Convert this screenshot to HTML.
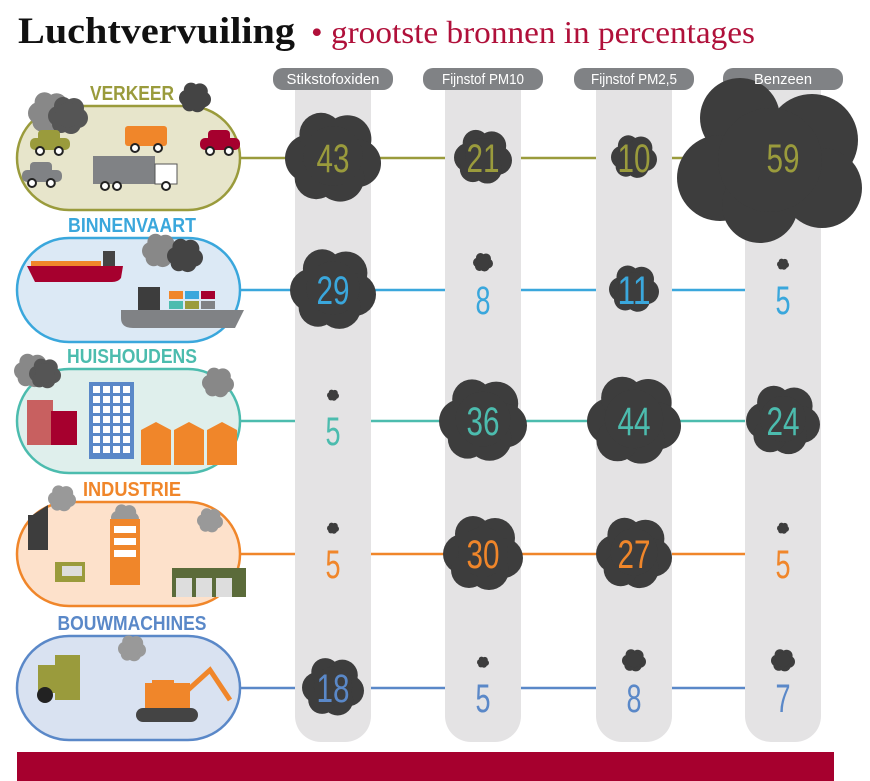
<!DOCTYPE html>
<html><head><meta charset="utf-8"><style>
html,body{margin:0;padding:0;background:#fff;}
svg{display:block}
.t{font-family:"Liberation Sans Narrow","Liberation Sans",sans-serif}
</style></head><body>
<svg id="s" width="870" height="781" viewBox="0 0 870 781" xmlns="http://www.w3.org/2000/svg">
<text x="18" y="43" font-family="Liberation Serif,serif" font-weight="bold" font-size="37" fill="#111" textLength="277" lengthAdjust="spacingAndGlyphs">Luchtvervuiling</text>
<text x="311" y="43" font-family="Liberation Serif,serif" font-size="32" fill="#b0103a" textLength="444" lengthAdjust="spacingAndGlyphs">• grootste bronnen in percentages</text>
<g id="cols"></g>
<g id="rows"></g>
<g id="heads"></g>
<rect x="17" y="752" width="817" height="29" fill="#a6002e"/>
</svg>
<script>
var s=document.getElementById('s'),NS='http://www.w3.org/2000/svg';
function el(t,a,p,txt){var e=document.createElementNS(NS,t);for(var k in a)e.setAttribute(k,a[k]);if(txt!=null)e.textContent=txt;(p||s).appendChild(e);return e;}
var cx=[333,483,634,783],heads=['Stikstofoxiden','Fijnstof PM10','Fijnstof PM2,5','Benzeen'],hw=[93,82,86,58];
var cols=document.getElementById('cols'),hd=document.getElementById('heads');
cx.forEach(function(x,i){
 el('rect',{x:x-38,y:80,width:76,height:662,rx:26,fill:'#e4e3e4'},cols);
 el('rect',{x:x-38,y:80,width:76,height:40,fill:'#e4e3e4'},cols);
 el('rect',{x:x-60,y:68,width:120,height:22,rx:10,fill:'#808285'},cols);
 el('text',{x:x-hw[i]/2,y:84,'font-size':15,fill:'#fff','class':'t',textLength:hw[i],lengthAdjust:'spacingAndGlyphs'},hd,heads[i]);
});
var rows=[
 {n:'VERKEER',w:84,y:158,c:'#9a9b3c',f:'#e7e5cb',v:[43,21,10,59],r:[48,29,23,0],big:[1,1,1,1]},
 {n:'BINNENVAART',w:128,y:290,c:'#3aa7dc',f:'#dce9f5',v:[29,8,11,5],r:[43,10,25,6],big:[1,0,1,0]},
 {n:'HUISHOUDENS',w:130,y:421,c:'#4cbcae',f:'#dfefec',v:[5,36,44,24],r:[6,44,47,37],big:[0,1,1,1]},
 {n:'INDUSTRIE',w:98,y:554,c:'#f0862a',f:'#fde1cb',v:[5,30,27,5],r:[6,40,38,6],big:[0,1,1,0]},
 {n:'BOUWMACHINES',w:149,y:688,c:'#5a88c8',f:'#d9e2f1',v:[18,5,8,7],r:[31,6,12,12],big:[1,0,0,0]}
];
var g=document.getElementById('rows');
function cloud(x,y,r,col){
 var c=[[-0.5,0.05,0.5],[-0.25,-0.45,0.45],[0.3,-0.35,0.5],[0.5,0.15,0.5],[0.15,0.45,0.5],[-0.35,0.45,0.45],[0,0,0.62]];
 c.forEach(function(p){el('circle',{cx:x+p[0]*r,cy:y+p[1]*r,r:p[2]*r,fill:col||'#3d3d3d'},g);});
}
function num(x,y,v,c){var w=String(v).length>1?33:15;el('text',{x:x-w/2,y:y,'font-size':40,fill:c,'class':'t',textLength:w,lengthAdjust:'spacingAndGlyphs'},g,v);}
rows.forEach(function(R,i){
 var top=R.y-52;
 el('line',{x1:235,y1:R.y,x2:745,y2:R.y,stroke:R.c,'stroke-width':2.5},g);
 cx.forEach(function(x){el('rect',{x:x-38,y:R.y-3,width:76,height:6,fill:'#e4e3e4'},g);});
 el('rect',{x:17,y:top,width:223,height:104,rx:52,fill:R.f,stroke:R.c,'stroke-width':2.5},g);
 el('text',{x:132-R.w/2,y:top-6,'font-size':20,'font-weight':'bold',fill:R.c,'class':'t',textLength:R.w,lengthAdjust:'spacingAndGlyphs'},g,R.n);
 cx.forEach(function(x,j){
  var r=R.r[j];
  if(i==0&&j==3){
   [[740,118,40],[812,140,46],[720,178,43],[760,205,38],[822,188,40],[770,160,52]].forEach(function(p){el('circle',{cx:p[0],cy:p[1],r:p[2],fill:'#3d3d3d'},g);});
   num(x,R.y+14,R.v[j],R.c);return;}
  if(R.big[j]){cloud(x,R.y-2,r);num(x,R.y+14,R.v[j],R.c);}
  else{cloud(x,R.y-26+(r>8?-2:0),r);num(x,R.y+24,R.v[j],R.c);}
 });
});
// smoke clouds on icons
cloud(50,112,22,'#888');cloud(68,115,20,'#555');cloud(195,97,16,'#444');
cloud(160,250,18,'#888');cloud(185,255,18,'#444');
cloud(32,370,18,'#888');cloud(45,373,16,'#555');cloud(218,382,16,'#888');
cloud(62,498,14,'#999');cloud(125,517,14,'#999');cloud(210,520,13,'#999');
cloud(132,648,14,'#999');
function car(x,y,w,c){el('rect',{x:x,y:y+8,width:w,height:12,rx:5,fill:c},g);el('rect',{x:x+w*0.2,y:y,width:w*0.55,height:12,rx:4,fill:c},g);
 [x+w*0.25,x+w*0.72].forEach(function(wx){el('circle',{cx:wx,cy:y+21,r:4,fill:'#fff',stroke:'#222','stroke-width':2},g);});}
car(30,130,40,'#9a9b3c');car(200,130,40,'#a6002e');car(22,162,40,'#808285');
el('rect',{x:125,y:126,width:42,height:20,rx:3,fill:'#f0862a'},g);
[135,158].forEach(function(wx){el('circle',{cx:wx,cy:148,r:4,fill:'#fff',stroke:'#222','stroke-width':2},g);});
el('rect',{x:93,y:156,width:62,height:28,fill:'#808285'},g);el('rect',{x:155,y:164,width:22,height:20,fill:'#fff',stroke:'#555'},g);
[105,117,166].forEach(function(wx){el('circle',{cx:wx,cy:186,r:4,fill:'#fff',stroke:'#222','stroke-width':2},g);});
el('path',{d:'M27,266 L123,266 L121,278 Q118,282 112,282 L35,282 Z',fill:'#a6002e'},g);
el('rect',{x:31,y:261,width:70,height:5,fill:'#f0862a'},g);el('rect',{x:103,y:251,width:12,height:15,fill:'#444'},g);
el('path',{d:'M121,310 L244,310 L235,328 L133,328 Q121,328 121,318Z',fill:'#808285'},g);
el('rect',{x:138,y:287,width:22,height:23,fill:'#3d3d3d'},g);
['#f0862a','#3aa7dc','#a6002e','#4cbcae','#9a9b3c','#808285'].forEach(function(c,k){el('rect',{x:169+(k%3)*16,y:291+Math.floor(k/3)*10,width:14,height:8,fill:c},g);});
el('rect',{x:27,y:400,width:26,height:45,fill:'#c86060'},g);el('rect',{x:51,y:411,width:26,height:34,fill:'#a6002e'},g);
el('rect',{x:89,y:382,width:45,height:77,fill:'#5a88c8'},g);
for(var a=0;a<4;a++)for(var b=0;b<7;b++)el('rect',{x:93+a*10,y:386+b*10,width:7,height:7,fill:'#fff'},g);
[141,174,207].forEach(function(hx){el('path',{d:'M'+hx+',430 L'+(hx+15)+',422 L'+(hx+30)+',430 L'+(hx+30)+',465 L'+hx+',465Z',fill:'#f0862a'},g);});
el('rect',{x:28,y:515,width:20,height:35,fill:'#3d3d3d'},g);el('path',{d:'M28,518 L48,505 L48,550 L28,550Z',fill:'#3d3d3d'},g);
el('rect',{x:110,y:519,width:30,height:66,fill:'#f0862a'},g);
[526,538,550].forEach(function(yy){el('rect',{x:114,y:yy,width:22,height:7,fill:'#fff'},g);});
el('rect',{x:55,y:562,width:30,height:20,fill:'#9a9b3c'},g);el('rect',{x:62,y:566,width:20,height:10,fill:'#ddd'},g);
el('rect',{x:172,y:568,width:74,height:29,fill:'#5b6b3a'},g);
[176,196,216].forEach(function(xx){el('rect',{x:xx,y:578,width:16,height:19,fill:'#ddd'},g);});
el('rect',{x:38,y:665,width:26,height:28,fill:'#9a9b3c'},g);el('rect',{x:55,y:655,width:25,height:45,fill:'#9a9b3c'},g);
el('circle',{cx:45,cy:695,r:8,fill:'#222'},g);
el('rect',{x:145,y:683,width:45,height:25,fill:'#f0862a'},g);el('rect',{x:152,y:680,width:22,height:20,fill:'#f0862a'},g);
el('path',{d:'M188,690 L210,670 L230,700',stroke:'#f0862a','stroke-width':5,fill:'none'},g);
el('rect',{x:136,y:708,width:62,height:14,rx:7,fill:'#444'},g);
</script>
</body></html>
